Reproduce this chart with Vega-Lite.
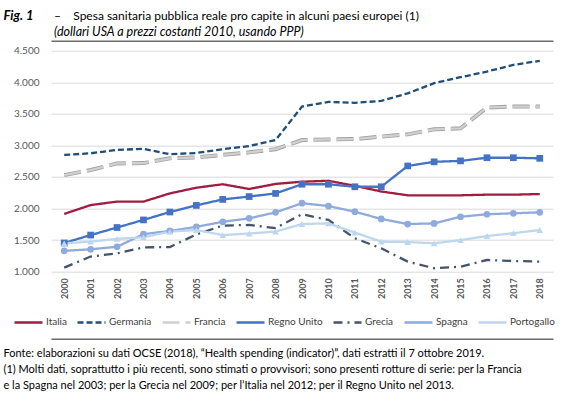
{
  "$schema": "https://vega.github.io/schema/vega-lite/v6.json",
  "width": 502,
  "height": 221,
  "autosize": {"type": "none"},
  "padding": {"left": 51, "top": 50.7, "right": 17, "bottom": 136.3},
  "background": "white",
  "config": {
    "font": "Lato",
    "view": {"stroke": null},
    "axis": {"labelFont": "Lato", "titleFont": "Lato"},
    "legend": {"labelFont": "Lato"},
    "title": {"font": "Lato"},
    "axisY": {
      "values": [1000, 1500, 2000, 2500, 3000, 3500, 4000, 4500],
      "labelExpr": "replace(format(datum.value, ','), ',', '.')",
      "labelFontSize": 10, "labelColor": "#595959", "labelPadding": 12,
      "ticks": false, "domain": false, "grid": true, "gridColor": "#d9d9d9", "gridWidth": 1,
      "titleAngle": 0, "titleX": -48, "titleY": -31, "titleAlign": "left", "titleBaseline": "alphabetic",
      "titleFontSize": 13, "titleFontStyle": "italic", "titleFontWeight": "bold", "titleColor": "#000000"
    }
  },
  "title": {
    "text": "–\u00a0\u00a0\u00a0\u00a0Spesa sanitaria pubblica reale pro capite in alcuni paesi europei (1)",
    "subtitle": "\u00a0\u00a0\u00a0\u00a0\u00a0\u00a0\u00a0\u00a0\u00a0(dollari USA a prezzi costanti 2010, usando PPP)",
    "anchor": "start",
    "frame": "group",
    "dx": 3,
    "dy": 40,
    "fontSize": 12,
    "fontWeight": "normal",
    "color": "#000000",
    "subtitleFontSize": 12.5,
    "subtitleFontStyle": "italic",
    "subtitleColor": "#000000",
    "subtitlePadding": 3,
    "offset": 10
  },
  "data": {
    "values": [
      {"anno": "2000", "paese": "Italia", "valore": 1915}, {"anno": "2001", "paese": "Italia", "valore": 2055}, {"anno": "2002", "paese": "Italia", "valore": 2110}, {"anno": "2003", "paese": "Italia", "valore": 2110}, {"anno": "2004", "paese": "Italia", "valore": 2240}, {"anno": "2005", "paese": "Italia", "valore": 2330}, {"anno": "2006", "paese": "Italia", "valore": 2385}, {"anno": "2007", "paese": "Italia", "valore": 2310}, {"anno": "2008", "paese": "Italia", "valore": 2390}, {"anno": "2009", "paese": "Italia", "valore": 2425}, {"anno": "2010", "paese": "Italia", "valore": 2440}, {"anno": "2011", "paese": "Italia", "valore": 2360}, {"anno": "2012", "paese": "Italia", "valore": 2270}, {"anno": "2013", "paese": "Italia", "valore": 2210}, {"anno": "2014", "paese": "Italia", "valore": 2210}, {"anno": "2015", "paese": "Italia", "valore": 2210}, {"anno": "2016", "paese": "Italia", "valore": 2220}, {"anno": "2017", "paese": "Italia", "valore": 2220}, {"anno": "2018", "paese": "Italia", "valore": 2230},
      {"anno": "2000", "paese": "Germania", "valore": 2850}, {"anno": "2001", "paese": "Germania", "valore": 2875}, {"anno": "2002", "paese": "Germania", "valore": 2930}, {"anno": "2003", "paese": "Germania", "valore": 2945}, {"anno": "2004", "paese": "Germania", "valore": 2860}, {"anno": "2005", "paese": "Germania", "valore": 2880}, {"anno": "2006", "paese": "Germania", "valore": 2940}, {"anno": "2007", "paese": "Germania", "valore": 2990}, {"anno": "2008", "paese": "Germania", "valore": 3085}, {"anno": "2009", "paese": "Germania", "valore": 3615}, {"anno": "2010", "paese": "Germania", "valore": 3690}, {"anno": "2011", "paese": "Germania", "valore": 3675}, {"anno": "2012", "paese": "Germania", "valore": 3705}, {"anno": "2013", "paese": "Germania", "valore": 3825}, {"anno": "2014", "paese": "Germania", "valore": 3985}, {"anno": "2015", "paese": "Germania", "valore": 4080}, {"anno": "2016", "paese": "Germania", "valore": 4170}, {"anno": "2017", "paese": "Germania", "valore": 4275}, {"anno": "2018", "paese": "Germania", "valore": 4340},
      {"anno": "2000", "paese": "Francia", "valore": 2530}, {"anno": "2001", "paese": "Francia", "valore": 2610}, {"anno": "2002", "paese": "Francia", "valore": 2715}, {"anno": "2003", "paese": "Francia", "valore": 2720}, {"anno": "2004", "paese": "Francia", "valore": 2795}, {"anno": "2005", "paese": "Francia", "valore": 2810}, {"anno": "2006", "paese": "Francia", "valore": 2850}, {"anno": "2007", "paese": "Francia", "valore": 2890}, {"anno": "2008", "paese": "Francia", "valore": 2940}, {"anno": "2009", "paese": "Francia", "valore": 3085}, {"anno": "2010", "paese": "Francia", "valore": 3095}, {"anno": "2011", "paese": "Francia", "valore": 3100}, {"anno": "2012", "paese": "Francia", "valore": 3140}, {"anno": "2013", "paese": "Francia", "valore": 3175}, {"anno": "2014", "paese": "Francia", "valore": 3255}, {"anno": "2015", "paese": "Francia", "valore": 3270}, {"anno": "2016", "paese": "Francia", "valore": 3600}, {"anno": "2017", "paese": "Francia", "valore": 3615}, {"anno": "2018", "paese": "Francia", "valore": 3615},
      {"anno": "2000", "paese": "Regno Unito", "valore": 1455}, {"anno": "2001", "paese": "Regno Unito", "valore": 1580}, {"anno": "2002", "paese": "Regno Unito", "valore": 1700}, {"anno": "2003", "paese": "Regno Unito", "valore": 1820}, {"anno": "2004", "paese": "Regno Unito", "valore": 1945}, {"anno": "2005", "paese": "Regno Unito", "valore": 2050}, {"anno": "2006", "paese": "Regno Unito", "valore": 2145}, {"anno": "2007", "paese": "Regno Unito", "valore": 2190}, {"anno": "2008", "paese": "Regno Unito", "valore": 2240}, {"anno": "2009", "paese": "Regno Unito", "valore": 2385}, {"anno": "2010", "paese": "Regno Unito", "valore": 2385}, {"anno": "2011", "paese": "Regno Unito", "valore": 2345}, {"anno": "2012", "paese": "Regno Unito", "valore": 2345}, {"anno": "2013", "paese": "Regno Unito", "valore": 2675}, {"anno": "2014", "paese": "Regno Unito", "valore": 2740}, {"anno": "2015", "paese": "Regno Unito", "valore": 2755}, {"anno": "2016", "paese": "Regno Unito", "valore": 2805}, {"anno": "2017", "paese": "Regno Unito", "valore": 2805}, {"anno": "2018", "paese": "Regno Unito", "valore": 2795},
      {"anno": "2000", "paese": "Grecia", "valore": 1065}, {"anno": "2001", "paese": "Grecia", "valore": 1240}, {"anno": "2002", "paese": "Grecia", "valore": 1290}, {"anno": "2003", "paese": "Grecia", "valore": 1385}, {"anno": "2004", "paese": "Grecia", "valore": 1390}, {"anno": "2005", "paese": "Grecia", "valore": 1590}, {"anno": "2006", "paese": "Grecia", "valore": 1730}, {"anno": "2007", "paese": "Grecia", "valore": 1740}, {"anno": "2008", "paese": "Grecia", "valore": 1690}, {"anno": "2009", "paese": "Grecia", "valore": 1910}, {"anno": "2010", "paese": "Grecia", "valore": 1820}, {"anno": "2011", "paese": "Grecia", "valore": 1530}, {"anno": "2012", "paese": "Grecia", "valore": 1370}, {"anno": "2013", "paese": "Grecia", "valore": 1160}, {"anno": "2014", "paese": "Grecia", "valore": 1055}, {"anno": "2015", "paese": "Grecia", "valore": 1080}, {"anno": "2016", "paese": "Grecia", "valore": 1185}, {"anno": "2017", "paese": "Grecia", "valore": 1170}, {"anno": "2018", "paese": "Grecia", "valore": 1160},
      {"anno": "2000", "paese": "Spagna", "valore": 1330}, {"anno": "2001", "paese": "Spagna", "valore": 1355}, {"anno": "2002", "paese": "Spagna", "valore": 1395}, {"anno": "2003", "paese": "Spagna", "valore": 1595}, {"anno": "2004", "paese": "Spagna", "valore": 1645}, {"anno": "2005", "paese": "Spagna", "valore": 1710}, {"anno": "2006", "paese": "Spagna", "valore": 1790}, {"anno": "2007", "paese": "Spagna", "valore": 1845}, {"anno": "2008", "paese": "Spagna", "valore": 1940}, {"anno": "2009", "paese": "Spagna", "valore": 2085}, {"anno": "2010", "paese": "Spagna", "valore": 2040}, {"anno": "2011", "paese": "Spagna", "valore": 1950}, {"anno": "2012", "paese": "Spagna", "valore": 1835}, {"anno": "2013", "paese": "Spagna", "valore": 1755}, {"anno": "2014", "paese": "Spagna", "valore": 1765}, {"anno": "2015", "paese": "Spagna", "valore": 1870}, {"anno": "2016", "paese": "Spagna", "valore": 1910}, {"anno": "2017", "paese": "Spagna", "valore": 1925}, {"anno": "2018", "paese": "Spagna", "valore": 1940},
      {"anno": "2000", "paese": "Portogallo", "valore": 1450}, {"anno": "2001", "paese": "Portogallo", "valore": 1475}, {"anno": "2002", "paese": "Portogallo", "valore": 1520}, {"anno": "2003", "paese": "Portogallo", "valore": 1545}, {"anno": "2004", "paese": "Portogallo", "valore": 1635}, {"anno": "2005", "paese": "Portogallo", "valore": 1660}, {"anno": "2006", "paese": "Portogallo", "valore": 1580}, {"anno": "2007", "paese": "Portogallo", "valore": 1605}, {"anno": "2008", "paese": "Portogallo", "valore": 1635}, {"anno": "2009", "paese": "Portogallo", "valore": 1755}, {"anno": "2010", "paese": "Portogallo", "valore": 1765}, {"anno": "2011", "paese": "Portogallo", "valore": 1620}, {"anno": "2012", "paese": "Portogallo", "valore": 1475}, {"anno": "2013", "paese": "Portogallo", "valore": 1470}, {"anno": "2014", "paese": "Portogallo", "valore": 1450}, {"anno": "2015", "paese": "Portogallo", "valore": 1500}, {"anno": "2016", "paese": "Portogallo", "valore": 1565}, {"anno": "2017", "paese": "Portogallo", "valore": 1610}, {"anno": "2018", "paese": "Portogallo", "valore": 1660}
    ]
  },
  "resolve": {"axis": {"x": "independent"}},
  "layer": [
    {
      "transform": [{"filter": "datum.paese === 'Francia'"}],
      "mark": {"type": "line", "color": "#a0a0a0", "strokeWidth": 4, "strokeDash": [17, 6]},
      "encoding": {
        "x": {"field": "anno", "type": "ordinal", "axis": {"orient": "top", "offset": 10, "labels": false, "ticks": false, "grid": false, "domain": true, "domainColor": "#6b6b6b", "domainWidth": 1.5, "title": null}},
        "y": {"field": "valore", "type": "quantitative", "scale": {"domain": [1000, 4500]}, "axis": {"title": "Fig. 1"}}
      }
    },
    {
      "mark": {"type": "line", "strokeWidth": 2.3},
      "encoding": {
        "x": {
          "field": "anno", "type": "ordinal",
          "axis": {
            "orient": "bottom", "labelAngle": 270, "labelFontSize": 9, "labelFontWeight": "bold", "labelColor": "#595959", "labelPadding": 6,
            "ticks": false, "domain": false, "grid": false,
            "title": ["Fonte: elaborazioni su dati OCSE (2018), “Health spending (indicator)”, dati estratti il 7 ottobre 2019.", "(1) Molti dati, soprattutto i più recenti, sono stimati o provvisori; sono presenti rotture di serie: per la Francia", "e la Spagna nel 2003; per la Grecia nel 2009; per l’Italia nel 2012; per il Regno Unito nel 2013."],
            "titleX": -48, "titleY": 85, "titleAlign": "left", "titleAnchor": "start", "titleBaseline": "alphabetic", "titleAngle": 0,
            "titleFontSize": 11, "titleFontWeight": "normal", "titleColor": "#000000", "titleLineHeight": 16
          }
        },
        "y": {"field": "valore", "type": "quantitative", "scale": {"domain": [1000, 4500]}, "axis": {"title": "Fig. 1"}},
        "color": {
          "field": "paese", "type": "nominal",
          "scale": {"domain": ["Italia", "Germania", "Francia", "Regno Unito", "Grecia", "Spagna", "Portogallo"], "range": ["#a01c40", "#1f4e79", "#d0d0d0", "#4472c4", "#44546a", "#8faadc", "#bdd7ee"]},
          "legend": {
            "orient": "none", "legendX": -38, "legendY": 256, "direction": "horizontal", "columns": 7, "title": null,
            "symbolType": "stroke", "symbolSize": 784, "symbolStrokeWidth": 2.5, "columnPadding": 5,
            "labelFontSize": 10, "labelColor": "#404040", "labelOffset": 2
          }
        },
        "strokeDash": {
          "field": "paese", "type": "nominal",
          "scale": {"domain": ["Italia", "Germania", "Francia", "Regno Unito", "Grecia", "Spagna", "Portogallo"], "range": [[1, 0], [6, 3], [17, 6], [1, 0], [9, 5, 2, 5], [1, 0], [1, 0]]},
          "legend": {
            "orient": "none", "legendX": -38, "legendY": 256, "direction": "horizontal", "columns": 7, "title": null,
            "symbolType": "stroke", "symbolSize": 784, "symbolStrokeWidth": 2.5, "columnPadding": 5,
            "labelFontSize": 10, "labelColor": "#404040", "labelOffset": 2
          }
        }
      }
    },
    {
      "transform": [{"filter": "datum.paese === 'Regno Unito' || datum.paese === 'Spagna' || datum.paese === 'Portogallo'"}],
      "mark": {"type": "point", "filled": true, "opacity": 1, "size": 45},
      "encoding": {
        "x": {"field": "anno", "type": "ordinal", "axis": {"orient": "bottom", "offset": 67, "labels": false, "ticks": false, "grid": false, "domain": true, "domainColor": "#6b6b6b", "domainWidth": 1.5, "title": null}},
        "y": {"field": "valore", "type": "quantitative", "scale": {"domain": [1000, 4500]}, "axis": {"title": "Fig. 1"}},
        "color": {"field": "paese", "type": "nominal", "legend": null},
        "shape": {"field": "paese", "type": "nominal", "scale": {"domain": ["Regno Unito", "Spagna", "Portogallo"], "range": ["square", "circle", "triangle-up"]}, "legend": null}
      }
    }
  ]
}
